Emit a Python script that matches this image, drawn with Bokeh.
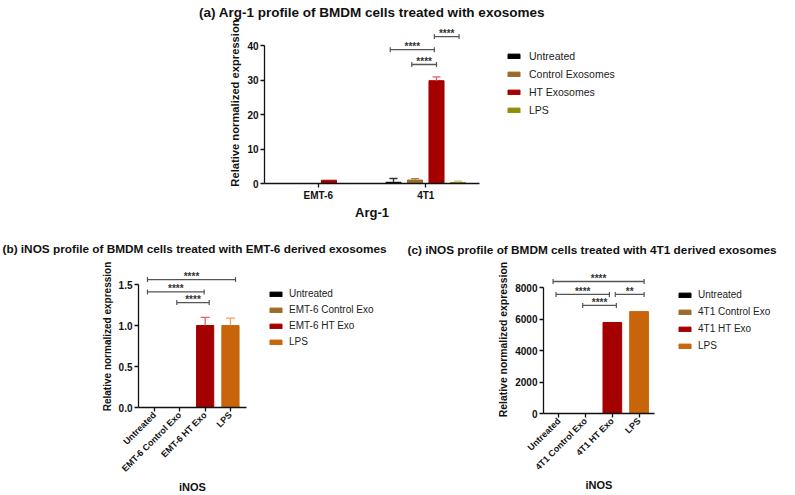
import math
from jinja2 import Template
from bokeh.plotting import figure
from bokeh.models import (FactorRange, Range1d, Legend, LegendItem,
                          ColumnDataSource, FixedTicker, PrintfTickFormatter)
from bokeh.transform import dodge
from bokeh.layouts import column, row
from bokeh.embed import file_html
from bokeh.resources import INLINE
from bokeh.core.properties import value

FONT = "Liberation Sans"

# ---------------- data ----------------
# (a) Arg-1
a_title = "(a) Arg-1 profile of BMDM cells treated with exosomes"
a_cell_lines = ["EMT-6", "4T1"]
a_treatments = ["Untreated", "Control Exosomes", "HT Exosomes", "LPS"]
a_untreated = [0.0, 0.35]
a_control = [0.0, 1.0]
a_ht = [0.95, 29.8]
a_lps = [0.0, 0.3]
a_untreated_sd = [0.0, 1.1]
a_control_sd = [0.0, 0.4]
a_ht_sd = [0.0, 1.1]
a_lps_sd = [0.0, 0.4]
a_yticks = [0, 10, 20, 30, 40]
a_sig_group = ["4T1", "4T1", "4T1"]
a_sig_from = ["Untreated", "Control Exosomes", "HT Exosomes"]
a_sig_to = ["HT Exosomes", "HT Exosomes", "LPS"]
a_sig_y = [38.8, 34.5, 42.6]
a_sig_label = ["****", "****", "****"]

# (b) iNOS, EMT-6 derived exosomes
b_title = "(b) iNOS profile of BMDM cells treated with EMT-6 derived exosomes"
b_treatments = ["Untreated", "EMT-6 Control Exo", "EMT-6 HT Exo", "LPS"]
b_values = [0.0, 0.0, 1.0, 1.0]
b_sd = [0.0, 0.0, 0.1, 0.09]
b_yticks = [0.0, 0.5, 1.0, 1.5]
b_sig_from = ["Untreated", "Untreated", "EMT-6 Control Exo"]
b_sig_to = ["LPS", "EMT-6 HT Exo", "EMT-6 HT Exo"]
b_sig_y = [1.56, 1.41, 1.28]
b_sig_label = ["****", "****", "****"]

# (c) iNOS, 4T1 derived exosomes
c_title = "(c) iNOS profile of BMDM cells treated with 4T1 derived exosomes"
c_treatments = ["Untreated", "4T1 Control Exo", "4T1 HT Exo", "LPS"]
c_values = [0, 0, 5780, 6470]
c_yticks = [0, 2000, 4000, 6000, 8000]
c_sig_from = ["Untreated", "Untreated", "4T1 HT Exo", "4T1 Control Exo"]
c_sig_to = ["LPS", "4T1 HT Exo", "LPS", "4T1 HT Exo"]
c_sig_y = [8380, 7560, 7560, 6860]
c_sig_label = ["****", "****", "**", "****"]

# ---------------- styles ----------------
a_colors = ["#000000", "#9C6A2A", "#A50000", "#8E8E0A"]
a_err_colors = ["#333333", "#B08040", "#E06060", "#C8C870"]
bc_colors = ["#000000", "#9C6A2A", "#A50000", "#C8640A"]
bc_err_colors = ["#333333", "#B08040", "#E06060", "#F0A060"]
a_offsets = [-0.3, -0.1, 0.1, 0.3]
a_sig_adj0 = [-0.03, -0.03, -0.02]
a_sig_adj1 = [-0.02, 0.0, 0.01]
b_sig_adj0 = [-0.28, -0.28, -0.12]
b_sig_adj1 = [0.2, -0.04, 0.16]
c_sig_adj0 = [-0.22, -0.11, 0.11, -0.11]
c_sig_adj1 = [0.19, -0.11, 0.19, 0.15]
BRACKET = "#555555"


def make_fig(x_range, y_end, frame_w, frame_h, bl, br, bt, bb):
    return figure(x_range=x_range, y_range=Range1d(0, y_end),
                  width=bl + frame_w + br, height=bt + frame_h + bb,
                  frame_width=frame_w, frame_height=frame_h,
                  min_border_left=bl, min_border_right=br,
                  min_border_top=bt, min_border_bottom=bb,
                  output_backend="svg", toolbar_location=None)


def style_fig(p, yticks, ylab_size, ytick_size, xtick_size, xlab_size):
    p.xgrid.visible = False
    p.ygrid.visible = False
    p.outline_line_color = None
    p.background_fill_color = "white"
    p.border_fill_color = "white"
    for ax in (p.xaxis[0], p.yaxis[0]):
        ax.axis_line_width = 1.3
        ax.axis_line_color = "#111111"
        ax.major_tick_line_width = 1.3
        ax.major_tick_line_color = "#111111"
        ax.major_tick_in = 0
        ax.major_tick_out = 4
        ax.minor_tick_line_color = None
        ax.major_label_text_font = FONT
        ax.major_label_text_font_style = "bold"
        ax.major_label_text_color = "#111111"
        ax.major_label_standoff = 2
        ax.axis_label_text_font = FONT
        ax.axis_label_text_font_style = "bold"
        ax.axis_label_text_color = "#111111"
        ax.axis_label_standoff = 3
    p.xaxis.axis_label_standoff = 1
    p.yaxis.ticker = FixedTicker(ticks=yticks)
    p.yaxis.bounds = (yticks[0], yticks[-1])
    p.yaxis.axis_label_text_font_size = ylab_size
    p.yaxis.major_label_text_font_size = ytick_size
    p.xaxis.major_label_text_font_size = xtick_size
    p.xaxis.axis_label_text_font_size = xlab_size


def style_title(p, text, size, align, offset, standoff):
    p.title.text = text
    p.title.text_font = FONT
    p.title.text_font_style = "bold"
    p.title.text_font_size = size
    p.title.text_color = "#111111"
    p.title.align = align
    p.title.offset = offset
    p.title.standoff = standoff


def add_legend(p, items, margin, label_h, spacing, standoff, font_size):
    leg = Legend(items=items, location="top_left",
                 orientation="vertical", margin=margin, padding=0,
                 spacing=spacing, label_height=label_h,
                 glyph_width=15, glyph_height=6, label_standoff=standoff,
                 border_line_color=None, background_fill_alpha=0,
                 label_text_font=FONT, label_text_font_size=font_size,
                 label_text_color="#222222")
    p.add_layout(leg, "right")


def add_bracket(p, g0, o0, g1, o1, i_span, y, label, star_size):
    src = ColumnDataSource(dict(g0=[g0], g1=[g1], y=[y], lab=[label]))
    xr = p.x_range
    p.segment(x0=dodge("g0", o0, range=xr), y0="y",
              x1=dodge("g1", o1, range=xr), y1="y",
              source=src, line_color=BRACKET, line_width=1.3)
    for g, o in (("g0", o0), ("g1", o1)):
        p.scatter(x=dodge(g, o, range=xr), y="y", source=src, marker="dash",
                  angle=math.pi / 2, size=5, line_color=BRACKET, line_width=1.2)
    mid = (o0 + o1 + i_span) / 2.0
    p.text(x=dodge("g0", mid, range=xr), y="y", text="lab", source=src,
           text_font=value(FONT), text_font_style="bold", text_font_size=star_size,
           text_align="center", text_baseline="alphabetic", y_offset=-3,
           text_color="#333333")


# ---------------- panel (a) ----------------
A_W, A_H = 795, 228
a_bl, a_bt = 264, 22
a_fw, a_fh = 215, 161
a_px_per_unit = 138 / 40.0
pa = make_fig(FactorRange(*a_cell_lines, range_padding=0), a_fh / a_px_per_unit,
              a_fw, a_fh, a_bl, A_W - a_bl - a_fw, a_bt, A_H - a_bt - a_fh)
style_fig(pa, a_yticks, "11.2px", "10px", "10px", "13px")
pa.xaxis.axis_label = "Arg-1"
pa.yaxis.axis_label = "Relative normalized expression"
style_title(pa, a_title, "13.5px", "center", 0, 5)

a_series = [a_untreated, a_control, a_ht, a_lps]
a_sds = [a_untreated_sd, a_control_sd, a_ht_sd, a_lps_sd]
a_items = []
for i, (t, vals, sds) in enumerate(zip(a_treatments, a_series, a_sds)):
    src = ColumnDataSource(dict(g=a_cell_lines, v=vals))
    r = pa.vbar(x=dodge("g", a_offsets[i], range=pa.x_range), top="v", bottom=0,
                width=0.14, source=src, fill_color=a_colors[i], line_color=a_colors[i])
    a_items.append(LegendItem(label=t, renderers=[r]))
    eg = [g for g, s in zip(a_cell_lines, sds) if s > 0]
    ev = [v for v, s in zip(vals, sds) if s > 0]
    eu = [v + s for v, s in zip(vals, sds) if s > 0]
    if eg:
        esrc = ColumnDataSource(dict(g=eg, v=ev, u=eu))
        pa.segment(x0=dodge("g", a_offsets[i], range=pa.x_range), y0="v",
                   x1=dodge("g", a_offsets[i], range=pa.x_range), y1="u",
                   source=esrc, line_color=a_err_colors[i], line_width=1.3)
        pa.scatter(x=dodge("g", a_offsets[i], range=pa.x_range), y="u", source=esrc,
                   marker="dash", size=8, line_color=a_err_colors[i], line_width=1.3)

for k in range(len(a_sig_y)):
    i0 = a_treatments.index(a_sig_from[k])
    i1 = a_treatments.index(a_sig_to[k])
    add_bracket(pa, a_sig_group[k], a_offsets[i0] + a_sig_adj0[k],
                a_sig_group[k], a_offsets[i1] + a_sig_adj1[k], 0,
                a_sig_y[k], a_sig_label[k], "10px")

add_legend(pa, a_items, 27, 14, 4, 8, "10.5px")

# ---------------- panel (b) ----------------
ROW_H = 267
B_W = 398
b_bl, b_bt = 138, 37
b_fw, b_fh = 108, 142
b_px_per_unit = 82.0
pb = make_fig(FactorRange(*b_treatments, range_padding=0.067), b_fh / b_px_per_unit,
              b_fw, b_fh, b_bl, B_W - b_bl - b_fw, b_bt, ROW_H - b_bt - b_fh)
style_fig(pb, b_yticks, "10px", "10px", "9px", "11px")
pb.yaxis.formatter = PrintfTickFormatter(format="%.1f")
pb.xaxis.major_label_orientation = math.pi / 4
pb.xaxis.axis_label = "iNOS"
pb.yaxis.axis_label = "Relative normalized expression"
style_title(pb, b_title, "11.8px", "left", 2 - b_bl, 19)

b_src = ColumnDataSource(dict(t=b_treatments, v=b_values, c=bc_colors))
rb = pb.vbar(x="t", top="v", bottom=0, width=0.68, source=b_src,
             fill_color="c", line_color="c")
b_items = [LegendItem(label=t, renderers=[rb], index=i) for i, t in enumerate(b_treatments)]
bt = [t for t, s in zip(b_treatments, b_sd) if s > 0]
bv = [v for v, s in zip(b_values, b_sd) if s > 0]
bu = [v + s for v, s in zip(b_values, b_sd) if s > 0]
bc = [c for c, s in zip(bc_err_colors, b_sd) if s > 0]
b_esrc = ColumnDataSource(dict(t=bt, v=bv, u=bu, c=bc))
pb.segment(x0="t", y0="v", x1="t", y1="u", source=b_esrc, line_color="c", line_width=1.3)
pb.scatter(x="t", y="u", source=b_esrc, marker="dash", size=9, line_color="c", line_width=1.3)

for k in range(len(b_sig_y)):
    i0 = b_treatments.index(b_sig_from[k])
    i1 = b_treatments.index(b_sig_to[k])
    add_bracket(pb, b_sig_from[k], b_sig_adj0[k], b_sig_to[k], b_sig_adj1[k],
                i1 - i0, b_sig_y[k], b_sig_label[k], "10px")

add_legend(pb, b_items, 22, 13, 3, 6, "10px")

# ---------------- panel (c) ----------------
C_W = A_W - B_W
c_bl, c_bt = 145, 37
c_fw, c_fh = 111, 148
c_px_per_unit = 126 / 8000.0
pc = make_fig(FactorRange(*c_treatments, range_padding=0.039), c_fh / c_px_per_unit,
              c_fw, c_fh, c_bl, C_W - c_bl - c_fw, c_bt, ROW_H - c_bt - c_fh)
style_fig(pc, c_yticks, "10.4px", "10px", "9px", "11px")
pc.xaxis.major_label_orientation = math.pi / 4
pc.xaxis.axis_label = "iNOS"
pc.yaxis.axis_label = "Relative normalized expression"
style_title(pc, c_title, "11.8px", "left", 9 - c_bl, 18)

c_src = ColumnDataSource(dict(t=c_treatments, v=c_values, c=bc_colors))
rc = pc.vbar(x="t", top="v", bottom=0, width=0.7, source=c_src,
             fill_color="c", line_color="c")
c_items = [LegendItem(label=t, renderers=[rc], index=i) for i, t in enumerate(c_treatments)]

for k in range(len(c_sig_y)):
    i0 = c_treatments.index(c_sig_from[k])
    i1 = c_treatments.index(c_sig_to[k])
    add_bracket(pc, c_sig_from[k], c_sig_adj0[k], c_sig_to[k], c_sig_adj1[k],
                i1 - i0, c_sig_y[k], c_sig_label[k], "10px")

add_legend(pc, c_items, 23, 13, 4, 6, "10px")

# ---------------- page ----------------
# Panels (a) and (b) in normal flow; panel (c) is a second root placed at the
# right half of the lower row.
root_a = column(pa, row(pb), name="rootA")
root_c = column(row(pc), name="rootC")

PAGE = Template("""{% extends base %}
{% block contents %}
{% from macros import embed %}
<div style="position:absolute;left:0px;top:0px;width:""" + str(A_W) + """px;height:""" + str(A_H + ROW_H) + """px;overflow:hidden;">
  <div style="width:""" + str(A_W) + """px;">{{ embed(roots.rootA) }}</div>
</div>
<div style="position:absolute;left:""" + str(B_W) + """px;top:""" + str(A_H) + """px;width:""" + str(C_W) + """px;height:""" + str(ROW_H) + """px;overflow:hidden;background:white;">
  <div style="width:""" + str(A_W) + """px;">{{ embed(roots.rootC) }}</div>
</div>
{% endblock %}
""")

try:
    html = file_html([root_a, root_c], INLINE, template=PAGE)
except Exception:
    root_a.children = []
    root_c.children = []
    html = file_html(column(pa, row(pb, pc)), INLINE)
open("out.html", "w").write(html)
